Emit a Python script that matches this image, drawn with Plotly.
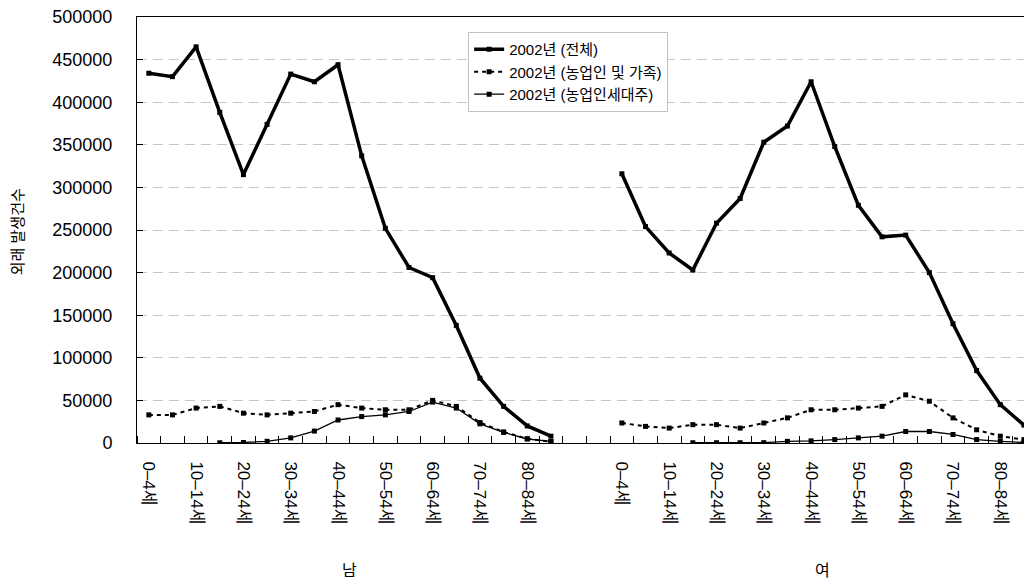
import plotly.graph_objects as go

# ---------------- data ----------------
age_groups = ["0–4세", "5–9세", "10–14세", "15–19세", "20–24세", "25–29세",
              "30–34세", "35–39세", "40–44세", "45–49세", "50–54세", "55–59세",
              "60–64세", "65–69세", "70–74세", "75–79세", "80–84세", "85세 이상"]
gap_categories = ["", ""]
sex_labels = ["남", "여"]
series_names = ["2002년 (전체)", "2002년 (농업인 및 가족)", "2002년 (농업인세대주)"]

male_total = [434000, 430000, 465000, 388000, 315000, 374000, 433000, 424000, 444000,
              337000, 252000, 206000, 194000, 138000, 76000, 43000, 20000, 8000]
male_family = [33000, 33000, 41000, 43000, 35000, 33000, 35000, 37000, 45000,
               41000, 39000, 39000, 50000, 43000, 24000, 13000, 5000, 1500]
male_head = [None, None, None, 300, 600, 2000, 6000, 14000, 27000,
             31000, 33000, 37000, 48000, 41000, 22500, 12500, 4700, 1900]

female_total = [316000, 254000, 223000, 203000, 258000, 287000, 353000, 372000, 424000,
                348000, 279000, 242000, 244000, 200000, 140000, 85000, 45000, 21000]
female_family = [23500, 19500, 17500, 21500, 21500, 17500, 23500, 29500, 39000,
                 39000, 41000, 43000, 56500, 49000, 29500, 15500, 8000, 4000]
female_head = [None, None, None, 300, 300, 300, 400, 1900, 2500,
               4000, 6000, 8000, 13500, 13500, 10000, 4000, 2000, 600]

y_ticks = [0, 50000, 100000, 150000, 200000, 250000, 300000, 350000, 400000, 450000, 500000]

# ------------- build category axis -------------
categories = age_groups + gap_categories + age_groups
x_idx = list(range(len(categories)))
gap_vals = [None] * len(gap_categories)

series_values = [
    male_total + gap_vals + female_total,
    male_family + gap_vals + female_family,
    male_head + gap_vals + female_head,
]

styles = [
    dict(width=3.5, dash="solid"),
    dict(width=2, dash="4px,4px"),
    dict(width=1.3, dash="solid"),
]

FONT = "Liberation Sans, Arial, Noto Sans CJK KR, sans-serif"

fig = go.Figure()
for name, vals, st in zip(series_names, series_values, styles):
    fig.add_trace(go.Scatter(
        x=x_idx, y=vals, name=name, mode="lines+markers",
        line=dict(color="black", width=st["width"], dash=st["dash"]),
        marker=dict(symbol="square", size=5, color="black"),
        connectgaps=False,
    ))

tickvals = [i for i in x_idx if i % 2 == 0]
ticktext = [categories[i] for i in tickvals]

# page body has an 8px margin: compensate so the chart lands where the reference is
fig.update_layout(
    width=1024, height=575,
    margin=dict(l=129, r=0, t=9, b=140),
    paper_bgcolor="white", plot_bgcolor="white",
    font=dict(family=FONT, color="black", size=17),
    showlegend=True,
    legend=dict(
        x=0.37, y=0.965, xanchor="left", yanchor="top",
        bgcolor="white", bordercolor="#c0c0c0", borderwidth=1,
        font=dict(size=15, family=FONT),
        tracegroupgap=0,
    ),
    xaxis=dict(
        range=[-0.5, 37.34], tickmode="array", tickvals=tickvals, ticktext=ticktext,
        tickangle=90, ticks="", showgrid=False, zeroline=False,
        showline=True, linecolor="black", linewidth=1, mirror=True,
        ticklabelstandoff=14, automargin=False, ticklabeloverflow="allow",
        tickfont=dict(size=17, family=FONT),
        minor=dict(ticks="inside", ticklen=7, tickcolor="black", tickwidth=1,
                   tickmode="linear", tick0=0.5, dtick=1, showgrid=False),
    ),
    yaxis=dict(
        range=[0, 500000], tickmode="array", tickvals=y_ticks,
        ticktext=[str(v) for v in y_ticks],
        ticks="inside", ticklen=6, tickcolor="black",
        showgrid=True, gridcolor="#c8c8c8", griddash="10px,6px", gridwidth=1,
        zeroline=False, showline=True, linecolor="black", linewidth=1,
        ticklabelstandoff=20, automargin=False, ticklabeloverflow="allow",
        tickfont=dict(size=18, family=FONT),
    ),
)

# y-axis title
fig.add_annotation(text="외래 발생건수", xref="paper", yref="paper",
                   x=-0.134, y=0.495, xanchor="center", yanchor="middle",
                   textangle=-90, showarrow=False,
                   font=dict(size=15, family=FONT))

# group labels
n_age = len(age_groups)
centers = [(n_age - 1) / 2, n_age + len(gap_categories) + (n_age - 1) / 2]
for lab, cx in zip(sex_labels, centers):
    fig.add_annotation(text=lab, x=cx, xref="x", y=-0.3, yref="paper",
                       xanchor="center", yanchor="middle",
                       showarrow=False, font=dict(size=16, family=FONT))

fig.write_html("out.html")
